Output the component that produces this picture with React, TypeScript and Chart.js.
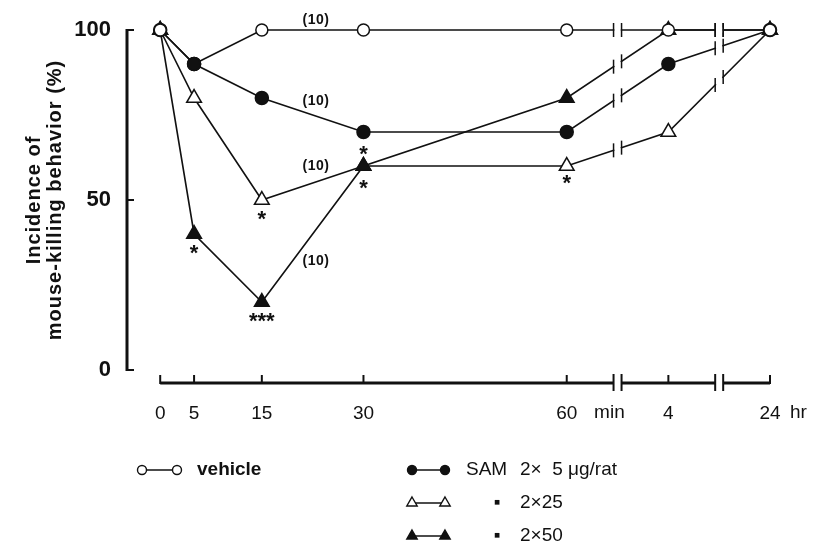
import React, { useEffect, useRef } from 'react';
import { Chart, registerables, PointElement } from 'chart.js';

Chart.register(...registerables);

// ---- data ----
const TIME_POS = [0, 5, 15, 30, 60, 75, 90];
const TIME_LABELS = ['0', '5', '15', '30', '60', '4', '24'];
const UNIT_LABELS = ['min', 'hr'];
const UNIT_POS = [66.3, 94.2];
const BREAK_POS = [67.5, 82.5];
const Y_TICKS = [0, 50, 100];

const VEHICLE = [100, 90, 100, 100, 100, 100, 100];
const SAM_5 = [100, 90, 80, 70, 70, 90, 100];
const SAM_25 = [100, 80, 50, 60, 60, 70, 100];
const SAM_50 = [100, 40, 20, 60, 80, 100, 100];

const N_TEXT = ['(10)', '(10)', '(10)', '(10)'];
const N_X = [23, 23, 23, 23];
const N_Y = [103, 79, 60, 32];

const STAR_TEXT = ['*', '*', '***', '*', '*', '*'];
const STAR_X = [5, 15, 15, 30, 30, 60];
const STAR_Y = [36, 46, 16, 65, 55, 56.5];

const LEGEND_NAME = ['vehicle', 'SAM', '\u25AA', '\u25AA'];
const LEGEND_DOSE = ['', '2\u00D7  5 \u03BCg/rat', '2\u00D725', '2\u00D750'];
const Y_TITLE = ['Incidence of', 'mouse-killing behavior (%)'];

const FONT = '"Liberation Sans", Arial, Helvetica, sans-serif';
const INK = '#111';

const toPts = (vals: number[]) => TIME_POS.map((x, i) => ({ x, y: vals[i] }));

const decorPlugin = {
  id: 'decor',
  beforeDatasetsDraw(chart: any) {
    const { ctx, chartArea, scales } = chart;
    const xs = scales.x;
    const ys = scales.y;
    ctx.save();
    ctx.strokeStyle = INK;
    ctx.lineCap = 'butt';
    // y axis
    const ax = chartArea.left;
    ctx.lineWidth = 3;
    ctx.beginPath();
    ctx.moveTo(ax, ys.getPixelForValue(100) - 1);
    ctx.lineTo(ax, ys.getPixelForValue(0) + 1);
    ctx.stroke();
    ctx.lineWidth = 2;
    Y_TICKS.forEach((v) => {
      const y = ys.getPixelForValue(v);
      ctx.beginPath();
      ctx.moveTo(ax, y);
      ctx.lineTo(ax + 7, y);
      ctx.stroke();
    });
    // y title
    ctx.save();
    ctx.fillStyle = INK;
    ctx.font = `bold 20px ${FONT}`;
    (ctx as any).letterSpacing = '1px';
    ctx.textAlign = 'center';
    ctx.textBaseline = 'middle';
    const cy = (chartArea.top + chartArea.bottom) / 2;
    Y_TITLE.forEach((t, i) => {
      ctx.save();
      ctx.translate(34 + i * 21, cy);
      ctx.rotate(-Math.PI / 2);
      ctx.fillText(t, 0, 0);
      ctx.restore();
    });
    ctx.restore();
    // x axis
    const ay = chartArea.bottom + 13;
    const x0 = xs.getPixelForValue(TIME_POS[0]);
    const x1 = xs.getPixelForValue(TIME_POS[TIME_POS.length - 1]);
    const cuts: number[] = [x0];
    BREAK_POS.forEach((b) => {
      const bx = xs.getPixelForValue(b);
      cuts.push(bx - 4, bx + 4);
    });
    cuts.push(x1);
    ctx.lineWidth = 3;
    for (let i = 0; i < cuts.length; i += 2) {
      ctx.beginPath();
      ctx.moveTo(cuts[i], ay);
      ctx.lineTo(cuts[i + 1], ay);
      ctx.stroke();
    }
    ctx.lineWidth = 2;
    BREAK_POS.forEach((b) => {
      const bx = xs.getPixelForValue(b);
      [-4, 4].forEach((s) => {
        ctx.beginPath();
        ctx.moveTo(bx + s, ay - 9);
        ctx.lineTo(bx + s, ay + 8);
        ctx.stroke();
      });
    });
    TIME_POS.forEach((p) => {
      const x = xs.getPixelForValue(p);
      ctx.beginPath();
      ctx.moveTo(x, ay + 1);
      ctx.lineTo(x, ay - 8);
      ctx.stroke();
    });
    ctx.fillStyle = INK;
    ctx.font = `19px ${FONT}`;
    ctx.textAlign = 'center';
    ctx.textBaseline = 'middle';
    UNIT_LABELS.forEach((t, i) => ctx.fillText(t, xs.getPixelForValue(UNIT_POS[i]), ay + 30));
    ctx.restore();
  },
  afterDatasetsDraw(chart: any) {
    const { ctx, chartArea, scales } = chart;
    const xs = scales.x;
    const ys = scales.y;
    // SAM 5 marker at 5 min sits above the vehicle marker
    chart.getDatasetMeta(1).data[1].draw(ctx, chartArea);

    // axis breaks on the data lines
    ctx.save();
    chart.data.datasets.forEach((ds: any, di: number) => {
      const pts = chart.getDatasetMeta(di).data;
      for (let i = 0; i < pts.length - 1; i++) {
        const a = pts[i];
        const b = pts[i + 1];
        BREAK_POS.forEach((bp) => {
          const bx = xs.getPixelForValue(bp);
          if (a.x < bx && bx < b.x) {
            const yAt = (x: number) => a.y + ((x - a.x) / (b.x - a.x)) * (b.y - a.y);
            ctx.strokeStyle = '#fff';
            ctx.lineWidth = 5;
            ctx.beginPath();
            ctx.moveTo(bx - 3.2, yAt(bx - 3.2));
            ctx.lineTo(bx + 3.2, yAt(bx + 3.2));
            ctx.stroke();
            ctx.strokeStyle = INK;
            ctx.lineWidth = 1.5;
            [-4, 4].forEach((s) => {
              const y = yAt(bx + s);
              ctx.beginPath();
              ctx.moveTo(bx + s, y - 7);
              ctx.lineTo(bx + s, y + 7);
              ctx.stroke();
            });
          }
        });
      }
    });

    // n labels
    ctx.fillStyle = INK;
    ctx.textAlign = 'center';
    ctx.textBaseline = 'middle';
    ctx.font = `bold 14px ${FONT}`;
    (ctx as any).letterSpacing = '0.5px';
    N_TEXT.forEach((t, i) => ctx.fillText(t, xs.getPixelForValue(N_X[i]), ys.getPixelForValue(N_Y[i])));
    (ctx as any).letterSpacing = '0px';
    // significance stars
    ctx.font = `bold 22px ${FONT}`;
    ctx.textBaseline = 'alphabetic';
    STAR_TEXT.forEach((t, i) => ctx.fillText(t, xs.getPixelForValue(STAR_X[i]), ys.getPixelForValue(STAR_Y[i]) + 12));
    ctx.restore();
  },
  afterDraw(chart: any) {
    const { ctx } = chart;
    const rows = [
      { ds: 0, m1: 142, m2: 177, y: 470, nameX: 197, bold: true },
      { ds: 1, m1: 412, m2: 445, y: 470, nameX: 466, bold: false },
      { ds: 2, m1: 412, m2: 445, y: 503, nameX: 497, bold: false },
      { ds: 3, m1: 412, m2: 445, y: 536, nameX: 497, bold: false },
    ];
    ctx.save();
    rows.forEach((r, i) => {
      const ds = chart.data.datasets[r.ds];
      ctx.strokeStyle = INK;
      ctx.lineWidth = 1.5;
      ctx.beginPath();
      ctx.moveTo(r.m1, r.y);
      ctx.lineTo(r.m2, r.y);
      ctx.stroke();
      const small = ds.pointStyle === 'triangle' ? 6 : 4.5;
      [r.m1, r.m2].forEach((mx) => {
        const pe: any = new PointElement({
          x: mx,
          y: r.y,
          options: {
            pointStyle: ds.pointStyle,
            radius: small,
            rotation: 0,
            borderWidth: 1.4,
            backgroundColor: ds.pointBackgroundColor,
            borderColor: ds.pointBorderColor,
          },
        } as any);
        pe.draw(ctx);
      });
      ctx.fillStyle = INK;
      ctx.textBaseline = 'middle';
      ctx.textAlign = i >= 2 ? 'center' : 'left';
      ctx.font = `${r.bold ? 'bold ' : ''}19px ${FONT}`;
      ctx.fillText(LEGEND_NAME[i], r.nameX, r.y);
      if (LEGEND_DOSE[i]) {
        ctx.textAlign = 'left';
        ctx.font = `19px ${FONT}`;
        ctx.fillText(LEGEND_DOSE[i], 520, r.y);
      }
    });
    ctx.restore();
  },
};

export default function App() {
  const ref = useRef<HTMLCanvasElement | null>(null);
  useEffect(() => {
    if (!ref.current) return;
    const mk = (label: string, vals: number[], style: string, filled: boolean, order: number, radius: number) => ({
      label,
      data: toPts(vals),
      borderColor: INK,
      borderWidth: 1.6,
      pointStyle: style,
      pointRadius: radius,
      pointBorderWidth: 1.5,
      pointBackgroundColor: filled ? INK : '#fff',
      pointBorderColor: INK,
      fill: false,
      tension: 0,
      clip: false,
      order,
    });
    const chart = new Chart(ref.current, {
      type: 'line',
      data: {
        datasets: [
          mk(LEGEND_NAME[0], VEHICLE, 'circle', false, 0, 6),
          mk(LEGEND_NAME[1] + ' ' + LEGEND_DOSE[1], SAM_5, 'circle', true, 1, 6.5),
          mk('SAM ' + LEGEND_DOSE[2], SAM_25, 'triangle', false, 3, 8.5),
          mk('SAM ' + LEGEND_DOSE[3], SAM_50, 'triangle', true, 2, 8.5),
        ] as any,
      },
      options: {
        responsive: false,
        animation: false,
        events: [],
        layout: { padding: { left: 0, top: 30, right: 48, bottom: 0 } },
        plugins: { legend: { display: false }, tooltip: { enabled: false } },
        scales: {
          x: {
            type: 'linear',
            min: -4.9,
            max: 90,
            grid: { display: false, drawTicks: false },
            border: { display: false },
            afterBuildTicks: (s: any) => {
              s.ticks = TIME_POS.map((v) => ({ value: v }));
            },
            afterFit: (s: any) => {
              s.height = 180;
            },
            ticks: {
              autoSkip: false,
              maxRotation: 0,
              padding: 32,
              color: INK,
              font: { family: FONT, size: 19 },
              callback: (v: any) => {
                const i = TIME_POS.indexOf(Number(v));
                return i >= 0 ? TIME_LABELS[i] : '';
              },
            },
          },
          y: {
            type: 'linear',
            min: 0,
            max: 100,
            grid: { display: false, drawTicks: false },
            border: { display: false },
            afterBuildTicks: (s: any) => {
              s.ticks = Y_TICKS.map((v) => ({ value: v }));
            },
            afterFit: (s: any) => {
              s.width = 127;
            },
            ticks: {
              padding: 16,
              color: INK,
              font: { family: FONT, size: 22, weight: 'bold' },
            },
          },
        },
      } as any,
      plugins: [decorPlugin],
    });
    return () => chart.destroy();
  }, []);
  return (
    <div style={{ position: 'fixed', left: 0, top: 0, width: 818, height: 550, background: '#fff' }}>
      <canvas ref={ref} width={818} height={550} style={{ display: 'block', width: 818, height: 550 }} />
    </div>
  );
}
